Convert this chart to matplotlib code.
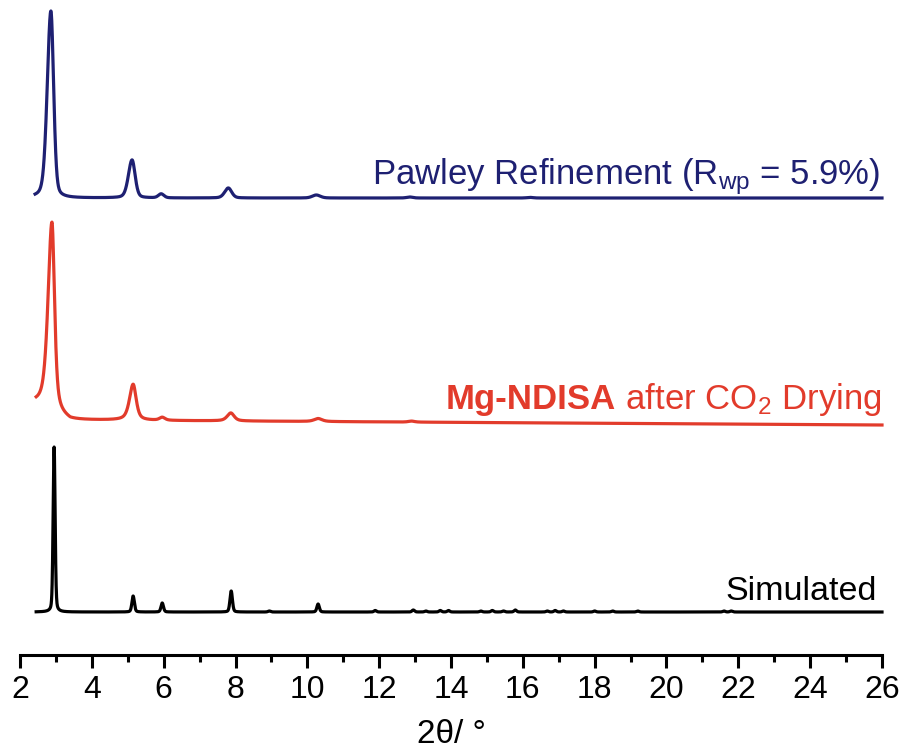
import numpy as np
import matplotlib
matplotlib.use('Agg')
import matplotlib.pyplot as plt
from matplotlib.ticker import MultipleLocator
from matplotlib.transforms import blended_transform_factory, IdentityTransform

plt.rcParams['font.family'] = ['Liberation Sans', 'DejaVu Sans']
plt.rcParams['mathtext.fontset'] = 'custom'
plt.rcParams['mathtext.rm'] = 'Liberation Sans'
plt.rcParams['mathtext.it'] = 'Liberation Sans:italic'
plt.rcParams['mathtext.bf'] = 'Liberation Sans:bold'

#peak lists (2theta, height, fwhm left, fwhm right) for each pattern
pawley_pos = [2.86, 5.12, 5.93, 7.80, 10.25, 12.85, 16.2]
pawley_h = [187, 38, 4, 10, 3, 1, 0.6]
pawley_wl = [0.24, 0.24, 0.18, 0.24, 0.26, 0.2, 0.2]
pawley_wr = [0.18, 0.20, 0.18, 0.22, 0.26, 0.2, 0.2]

mg_pos = [2.89, 5.15, 5.96, 7.87, 10.30, 12.9]
mg_h = [190, 36, 3, 8, 3, 1]
mg_wl = [0.26, 0.24, 0.18, 0.24, 0.26, 0.2]
mg_wr = [0.17, 0.20, 0.18, 0.22, 0.26, 0.2]
#sloping background under the CO2 dried sample
mg_bg_x = [2.45, 2.75, 3.4, 26.0]
mg_bg_y = [14, 10, 0, -5]

sim_pos = [2.95, 5.15, 5.96, 7.88, 8.94, 10.30, 11.89, 12.95, 13.3, 13.7, 13.93,
           14.83, 15.15, 15.46, 15.79, 16.68, 16.9, 17.13, 18.0, 18.5, 19.2, 21.6, 21.8]
sim_h = [165, 16, 9, 21, 1, 8, 1.5, 2, 1, 1.5, 1.5,
         1, 1.5, 1, 2, 1, 1.5, 1, 1, 1, 1, 1, 1]
sim_w = [0.065, 0.08, 0.08, 0.08, 0.08, 0.08, 0.08, 0.08, 0.08, 0.08, 0.08,
         0.08, 0.08, 0.08, 0.08, 0.08, 0.08, 0.08, 0.08, 0.08, 0.08, 0.08, 0.08]

#baseline levels of the stacked patterns
offsets = [457, 235, 43]


def pattern(x, pos, h, wl, wr, eta):
    y = np.zeros_like(x)
    for p, a, l, r in zip(pos, h, wl, wr):
        w = np.where(x < p, l, r)
        d = (x - p) / w
        y += a * (eta / (1 + 4 * d**2) + (1 - eta) * np.exp(-4 * np.log(2) * d**2))
    return y


x_blue = np.linspace(2.42, 26, 6000)
x_red = np.linspace(2.45, 26, 6000)
x_blk = np.linspace(2.45, 26, 8000)

y_blue = offsets[0] + pattern(x_blue, pawley_pos, pawley_h, pawley_wl, pawley_wr, 0.3)
y_red = offsets[1] + pattern(x_red, mg_pos, mg_h, mg_wl, mg_wr, 0.6) + np.interp(x_red, mg_bg_x, mg_bg_y)
y_blk = offsets[2] + pattern(x_blk, sim_pos, sim_h, sim_w, sim_w, 0.3)

blue = '#1e2072'
red = '#e23b2b'

fig = plt.figure(figsize=(9.11, 7.5), dpi=100)
ax = fig.add_axes([20 / 911, 95 / 750, 862 / 911, 655 / 750])

ax.plot(x_blue, y_blue, color=blue, lw=2.3, clip_on=False)
ax.plot(x_red, y_red, color=red, lw=2.3, clip_on=False)
ax.plot(x_blk, y_blk, color='black', lw=2.3, clip_on=False)

ax.set_xlim(2, 26)
ax.set_ylim(0, 655)
for s in ['left', 'right', 'top']:
    ax.spines[s].set_visible(False)
ax.spines['bottom'].set_linewidth(2.2)
ax.set_yticks([])
ax.xaxis.set_major_locator(MultipleLocator(2))
ax.xaxis.set_minor_locator(MultipleLocator(1))
ax.tick_params(axis='x', which='major', direction='out', length=9.5, width=2.2,
               labelsize=23, pad=5)
ax.tick_params(axis='x', which='minor', direction='out', length=5, width=2.2)
ax.set_xlabel('2θ/ °', fontsize=24, labelpad=10)

ax.text(25.95, 471, r'Pawley Refinement (R$_{\mathregular{wp}}$ = 5.9%)', color=blue,
        fontsize=25, ha='right', va='baseline')
t_after = ax.text(26.0, 246, r' after CO$_{\mathregular{2}}$ Drying', color=red,
                  fontsize=25, ha='right', va='baseline')
ax.text(25.85, 55, 'Simulated', color='black', fontsize=24.5, ha='right', va='baseline')

#bold sample name placed just left of the normal text
fig.canvas.draw()
bb = t_after.get_window_extent()
tr = blended_transform_factory(IdentityTransform(), ax.transData)
ax.text(bb.x0, 246, 'Mg-NDISA', color=red, fontsize=25, fontweight='bold',
        ha='right', va='baseline', transform=tr)

fig.savefig('out.png', dpi=100)
